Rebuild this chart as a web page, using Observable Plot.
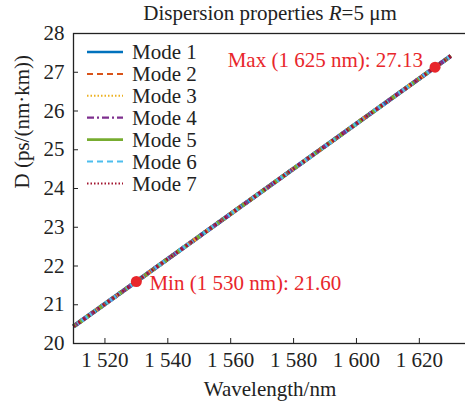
<!DOCTYPE html>
<html>
<head>
<meta charset="utf-8">
<script src="https://cdn.jsdelivr.net/npm/d3@7"></script>
<script src="https://cdn.jsdelivr.net/npm/@observablehq/plot@0.6"></script>
<style>
  body { margin: 0; background: white; }
  #wrap { position: relative; width: 465px; height: 410px; overflow: hidden; background: white; font-family: "Liberation Serif", "Times New Roman", serif; }
  #title { position: absolute; left: 0; width: 540px; top: 1px; text-align: center; font-size: 21px; color: #222; line-height: 24px; }
  #legend { position: absolute; left: 0; top: 0; }
</style>
</head>
<body>
<div id="wrap">
  <div id="title">Dispersion properties <i>R</i>=5 μm</div>
</div>
<script>
// ---- data ----
const modes = ["Mode 1", "Mode 2", "Mode 3", "Mode 4", "Mode 5", "Mode 6", "Mode 7"];
const wavelengths = [1510, 1530, 1625, 1630];
const mode1 = [20.44, 21.60, 27.13, 27.42];
const mode2 = [20.44, 21.60, 27.13, 27.42];
const mode3 = [20.44, 21.60, 27.13, 27.42];
const mode4 = [20.44, 21.60, 27.13, 27.42];
const mode5 = [20.44, 21.60, 27.13, 27.42];
const mode6 = [20.44, 21.60, 27.13, 27.42];
const mode7 = [20.44, 21.60, 27.13, 27.42];
const modeValues = [mode1, mode2, mode3, mode4, mode5, mode6, mode7];
const colors = ["#0072BD", "#D95319", "#EDB120", "#7E2F8E", "#77AC30", "#4DBEEE", "#A2142F"];
const dashes = [null, "6,4", "1.5,2", "7,3,2,3", null, "6,4", "1.5,2"];
const widths = [2.6, 2, 2, 2.2, 2.6, 2, 2];
const plotWidths = [4.5, 4, 4, 4, 4, 4, 3.5];
const plotDashes = [null, "4,3", "2,2", "5,2,2,2", "3,5", "2,3", "2,4"];
const minPoint = {x: 1530, y: 21.60, label: "Min (1 530 nm): 21.60"};
const maxPoint = {x: 1625, y: 27.13, label: "Max (1 625 nm): 27.13"};
const xTicks = [1520, 1540, 1560, 1580, 1600, 1620];
const xTickLabels = ["1 520", "1 540", "1 560", "1 580", "1 600", "1 620"];
const yTicks = [20, 21, 22, 23, 24, 25, 26, 27, 28];
const xLabel = "Wavelength/nm";
const yLabel = "D (ps/(nm·km))";

const rows = [];
modes.forEach((m, i) => wavelengths.forEach((w, j) => rows.push({mode: m, i, x: w, y: modeValues[i][j]})));

const red = "#e8262b";
const fs = 21;

const lineMarks = modes.map((m, i) => Plot.line(rows.filter(r => r.i === i), {
  x: "x", y: "y", stroke: colors[i], strokeWidth: plotWidths[i], strokeDasharray: plotDashes[i] ?? undefined, strokeLinecap: "butt"
}));

const chart = Plot.plot({
  width: 465,
  height: 410,
  marginTop: 33,
  marginBottom: 67,
  marginLeft: 73,
  marginRight: -1,
  x: {domain: [1510, 1635]},
  y: {domain: [20, 28]},
  style: {fontFamily: "Liberation Serif, Times New Roman, serif", fontSize: fs + "px", background: "transparent", color: "#222"},
  marks: [
    ...lineMarks,
    Plot.frame({stroke: "#222", strokeWidth: 1.3}),
    Plot.axisX({ticks: xTicks, tickFormat: d => xTickLabels[xTicks.indexOf(d)], tickSize: -5, tickPadding: 14, label: null, stroke: "#222"}),
    Plot.axisY({ticks: yTicks, tickSize: -5, tickPadding: 14, label: null, stroke: "#222"}),
    Plot.dot([minPoint, maxPoint], {x: "x", y: "y", r: 5.5, fill: red, stroke: null}),
    Plot.text([maxPoint], {x: "x", y: "y", text: "label", fill: red, textAnchor: "end", dx: -12, dy: -7, fontSize: fs}),
    Plot.text([minPoint], {x: "x", y: "y", text: "label", fill: red, textAnchor: "start", dx: 13, dy: 2, fontSize: fs}),
    Plot.text([xLabel], {frameAnchor: "bottom", dy: 52, fontSize: fs, fill: "#222"}),
    Plot.text([yLabel], {frameAnchor: "left", rotate: -90, dx: -51, fontSize: fs, fill: "#222"})
  ]
});

const wrap = document.getElementById("wrap");
wrap.insertBefore(chart, wrap.firstChild);

// legend
const leg = d3.select(wrap).append("svg").attr("id", "legend").attr("width", 465).attr("height", 410);
modes.forEach((m, i) => {
  const yy = 52 + i * 21.9;
  const ln = leg.append("line").attr("x1", 87).attr("x2", 123).attr("y1", yy).attr("y2", yy)
    .attr("stroke", colors[i]).attr("stroke-width", widths[i]);
  if (dashes[i]) ln.attr("stroke-dasharray", dashes[i]);
  leg.append("text").attr("x", 132).attr("y", yy).attr("dy", "0.35em")
    .attr("font-family", "Liberation Serif, Times New Roman, serif").attr("font-size", fs).attr("fill", "#222").text(m);
});
</script>
</body>
</html>
